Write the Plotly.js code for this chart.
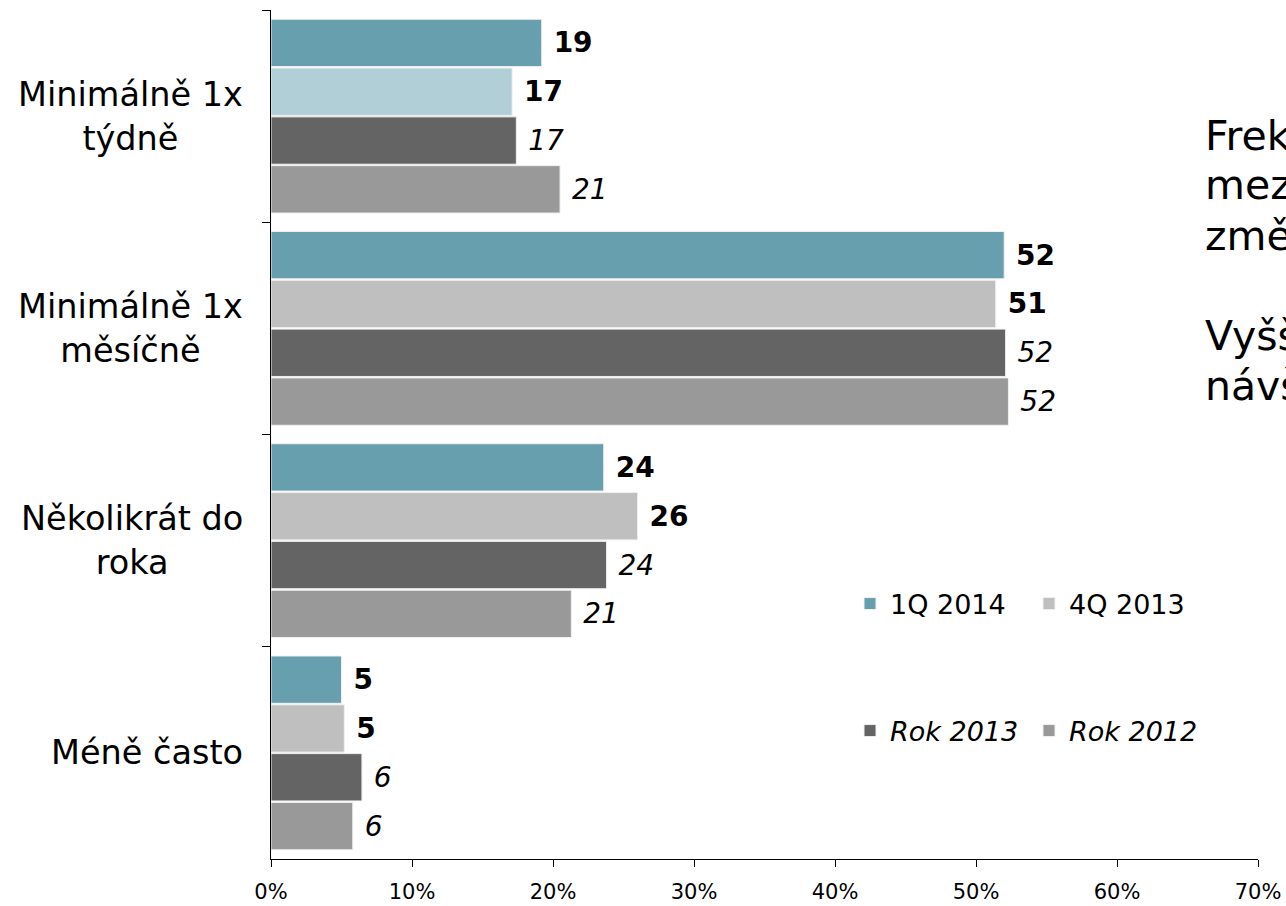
<!DOCTYPE html>
<html><head><meta charset="utf-8">
<script src="https://cdn.plot.ly/plotly-3.0.1.min.js"></script>
<style>html,body{margin:0;padding:0;background:#fff;}#chart{width:1286px;height:906px;}</style>
</head><body><div id="chart"></div>
<script>
const categories = ['Minimálně 1x<br>týdně', 'Minimálně 1x<br>měsíčně', 'Několikrát do<br>roka', 'Méně často'];
const seriesNames = ['1Q 2014', '4Q 2013', 'Rok 2013', 'Rok 2012'];
const q1_2014 = [19.2, 52.0, 23.6, 5.0];
const q4_2013 = [17.1, 51.4, 26.0, 5.2];
const rok2013 = [17.4, 52.1, 23.8, 6.45];
const rok2012 = [20.5, 52.3, 21.3, 5.8];
const xTicks = [0, 10, 20, 30, 40, 50, 60, 70];
const xTickLabels = ['0%', '10%', '20%', '30%', '40%', '50%', '60%', '70%'];
const sideText = ['Frek', 'mez', 'změ', 'Vyšš', 'návš'];

const FONT = 'DejaVu Sans, Verdana, sans-serif';
const lineStyle = {color: '#f0f0f0', width: 1};

function barTrace(name, xs, ys, color, bold, og, legend, showlegend) {
  return {
    type: 'bar', orientation: 'h', name: bold ? name : '<i>' + name + '</i>',
    x: xs, y: ys, offsetgroup: og, legend: legend, showlegend: showlegend,
    marker: {color: color, line: lineStyle},
    texttemplate: bold ? ' <b>%{x:.0f}</b>' : ' <i>%{x:.0f}</i>',
    textposition: 'outside', cliponaxis: false,
    textfont: {family: FONT, size: 28, color: '#000'},
    hoverinfo: 'skip'
  };
}

const traces = [
  barTrace(seriesNames[0], q1_2014, categories, '#689fae', true, 'a', 'legend', true),
  barTrace(seriesNames[1], q4_2013.slice(1), categories.slice(1), '#bfbfbf', true, 'b', 'legend', true),
  barTrace(seriesNames[1], q4_2013.slice(0, 1), categories.slice(0, 1), '#b1cfd6', true, 'b', 'legend', false),
  barTrace(seriesNames[2], rok2013, categories, '#646464', false, 'c', 'legend2', true),
  barTrace(seriesNames[3], rok2012, categories, '#999999', false, 'd', 'legend2', true)
];

const annotations = [];
categories.forEach(c => {
  annotations.push({
    xref: 'paper', yref: 'y', x: 0, y: c, xanchor: 'right', yanchor: 'middle',
    xshift: -26, align: 'center', showarrow: false, text: c,
    font: {family: FONT, size: 33.5, color: '#000'}
  });
});
const sideY = [136, 185, 236, 336, 386];
sideText.forEach((t, i) => {
  annotations.push({
    xref: 'paper', yref: 'paper', x: (1203 - 271) / 987, y: (859 - sideY[i]) / 849,
    xanchor: 'left', yanchor: 'middle', showarrow: false, text: t,
    font: {family: FONT, size: 41, color: '#000'}
  });
});

const legendCommon = {
  orientation: 'h', xanchor: 'left', yanchor: 'middle',
  font: {family: FONT, size: 27, color: '#000'},
  bgcolor: 'rgba(0,0,0,0)', itemwidth: 30, tracegroupgap: 0, entrywidth: 134
};

const layout = {
  width: 1286, height: 906,
  margin: {l: 271, r: 28, t: 10, b: 47},
  paper_bgcolor: '#fff', plot_bgcolor: '#fff',
  barmode: 'group', bargap: 0.08, bargroupgap: 0.03,
  font: {family: FONT, color: '#000'},
  showlegend: true,
  xaxis: {
    range: [0, 70], tickmode: 'array', tickvals: xTicks, ticktext: xTickLabels,
    showgrid: false, zeroline: false, showline: true, linecolor: '#000', linewidth: 1,
    ticks: 'outside', ticklen: 7, tickcolor: '#000', ticklabelstandoff: 7,
    tickfont: {family: FONT, size: 21, color: '#000'}, fixedrange: true
  },
  yaxis: {
    type: 'category', categoryorder: 'array', categoryarray: categories,
    autorange: 'reversed', showgrid: false, zeroline: false,
    showline: true, linecolor: '#000', linewidth: 1,
    ticks: 'outside', ticklen: 8, tickcolor: '#000', tickson: 'boundaries',
    showticklabels: false, fixedrange: true
  },
  legend: Object.assign({}, legendCommon, {x: (850 - 271) / 987, y: (859 - 604) / 849}),
  legend2: Object.assign({}, legendCommon, {x: (850 - 271) / 987, y: (859 - 731) / 849}),
  annotations: annotations
};

Plotly.newPlot('chart', traces, layout, {displayModeBar: false, staticPlot: true});
</script></body></html>
